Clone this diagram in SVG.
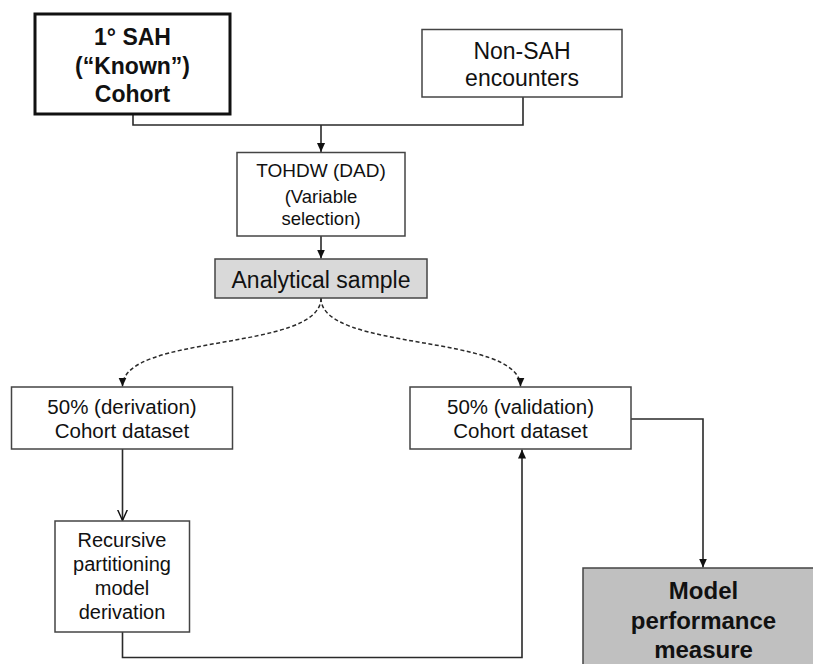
<svg xmlns="http://www.w3.org/2000/svg" width="813" height="664" viewBox="0 0 813 664">
<style>
.box{fill:#fff;stroke:#444;stroke-width:1.5}
.t{font-family:"Liberation Sans",Arial,sans-serif;fill:#111;text-anchor:middle}
.b{font-weight:bold}
.c{fill:none;stroke:#2a2a2a;stroke-width:1.6}
.d{fill:none;stroke:#2a2a2a;stroke-width:1.5;stroke-dasharray:4 2.5}
</style>
<defs>
<marker id="arr" viewBox="0 0 10 10" refX="10" refY="5" markerWidth="9" markerHeight="9" orient="auto" markerUnits="userSpaceOnUse">
<path d="M0,0.5 L10,5 L0,9.5 z" fill="#111"/>
</marker>
<marker id="open" viewBox="0 0 10 10" refX="10" refY="5" markerWidth="11" markerHeight="11" orient="auto" markerUnits="userSpaceOnUse">
<path d="M0,0.5 L10,5 L0,9.5" fill="none" stroke="#111" stroke-width="1.3"/>
</marker>
</defs>
<rect width="813" height="664" fill="#fff"/>
<g id="connectors">
<path class="c" d="M133,114 V125 H523 V97"/>
<path class="c" d="M321,125 V152" marker-end="url(#arr)"/>
<path class="c" d="M321,236 V258.5" marker-end="url(#arr)"/>
<path class="d" d="M321,298 C321,352 122.5,333 122.5,386.5" marker-end="url(#arr)"/>
<path class="d" d="M321,298 C321,352 520.5,333 520.5,386.5" marker-end="url(#arr)"/>
<path class="c" d="M122.5,449 V520.5" marker-end="url(#open)"/>
<path class="c" d="M122.5,632 V657.5 H522 V449.5" marker-end="url(#arr)"/>
<path class="c" d="M631,419 H703 V567.5" marker-end="url(#arr)"/>
</g>
<g id="known">
<rect x="35" y="14" width="195" height="100" fill="#fff" stroke="#111" stroke-width="3"/>
<text class="t b" font-size="23" x="132.5" y="44.5">1° SAH</text>
<text class="t b" font-size="23" x="132.5" y="74">(“Known”)</text>
<text class="t b" font-size="23" x="132.5" y="102">Cohort</text>
</g>
<g id="nonsah">
<rect class="box" x="422" y="29.5" width="200" height="67.5"/>
<text class="t" font-size="23" x="522" y="58.5">Non-SAH</text>
<text class="t" font-size="23" x="522" y="86">encounters</text>
</g>
<g id="tohdw">
<rect class="box" x="237" y="152.5" width="168" height="83.5"/>
<text class="t" font-size="19" x="321" y="177">TOHDW (DAD)</text>
<text class="t" font-size="18.5" x="321" y="203">(Variable</text>
<text class="t" font-size="18.5" x="321" y="225">selection)</text>
</g>
<g id="analytical">
<rect x="215" y="259" width="212" height="39" fill="#d9d9d9" stroke="#444" stroke-width="1.5"/>
<text class="t" font-size="23" x="321" y="288">Analytical sample</text>
</g>
<g id="derivation">
<rect class="box" x="11.5" y="387" width="221" height="62"/>
<text class="t" font-size="20.5" x="122" y="414.3">50% (derivation)</text>
<text class="t" font-size="20.5" x="122" y="438.3">Cohort dataset</text>
</g>
<g id="validation">
<rect class="box" x="410" y="387" width="221" height="62"/>
<text class="t" font-size="20.5" x="520.5" y="414.3">50% (validation)</text>
<text class="t" font-size="20.5" x="520.5" y="438.3">Cohort dataset</text>
</g>
<g id="recursive">
<rect class="box" x="55" y="521" width="134.5" height="111"/>
<text class="t" font-size="20" x="122" y="547">Recursive</text>
<text class="t" font-size="20" x="122" y="571">partitioning</text>
<text class="t" font-size="20" x="122" y="595">model</text>
<text class="t" font-size="20" x="122" y="619">derivation</text>
</g>
<g id="model">
<rect x="583" y="568" width="240" height="110" fill="#c0c0c0" stroke="#444" stroke-width="1.5"/>
<text class="t b" font-size="24" x="703.5" y="598.5">Model</text>
<text class="t b" font-size="24" x="703.5" y="628.5">performance</text>
<text class="t b" font-size="24" x="703.5" y="657.5">measure</text>
</g>
</svg>
